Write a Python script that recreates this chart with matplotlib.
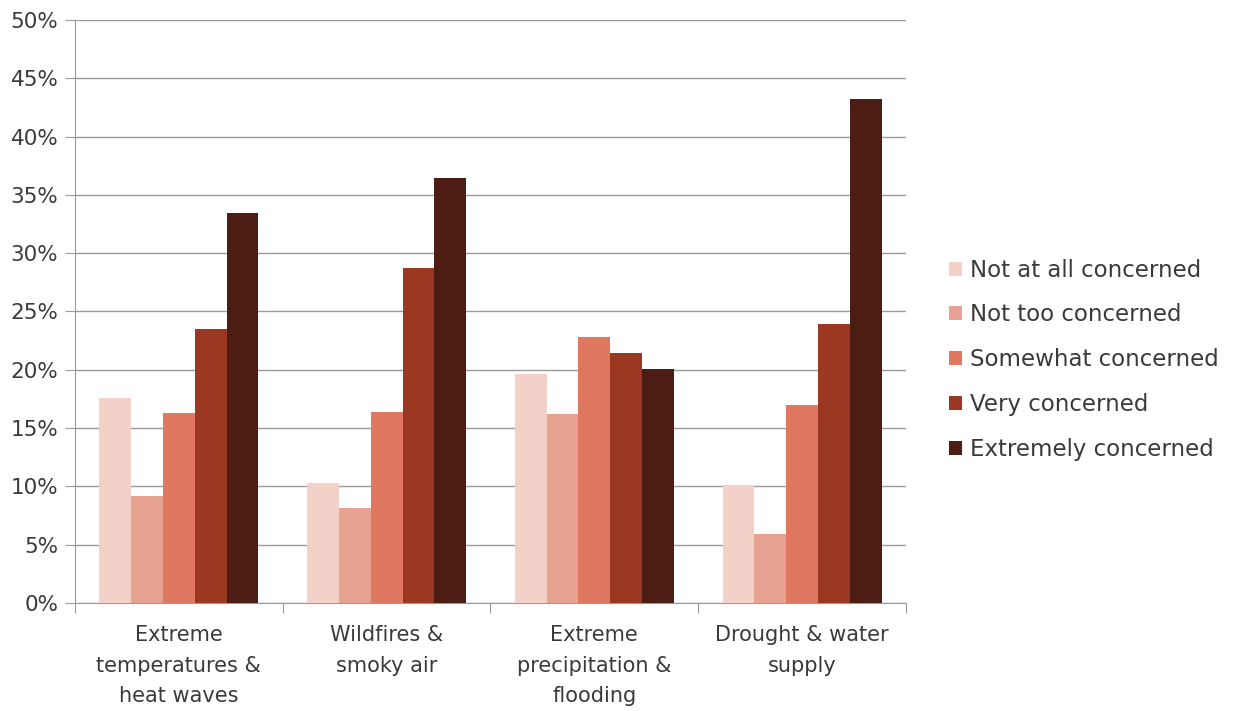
import matplotlib
matplotlib.use('Agg')

import matplotlib.pyplot as plt
import numpy as np
from matplotlib.ticker import FixedLocator, PercentFormatter

# Concern level per climate hazard (% of respondents)
categories = ["Extreme\ntemperatures &\nheat waves", "Wildfires &\nsmoky air",
              "Extreme\nprecipitation &\nflooding", "Drought & water\nsupply"]
levels = ["Not at all concerned", "Not too concerned", "Somewhat concerned",
          "Very concerned", "Extremely concerned"]
not_at_all = [17.6, 10.3, 19.6, 10.1]
not_too = [9.2, 8.1, 16.2, 5.9]
somewhat = [16.3, 16.4, 22.8, 17.0]
very = [23.5, 28.7, 21.4, 23.9]
extremely = [33.4, 36.4, 20.1, 43.2]
colors = ["#F3D1C8", "#E8A291", "#E07760", "#9A3822", "#4D1C13"]

plt.rcParams['font.family'] = ['DejaVu Sans']

fig = plt.figure(figsize=(12.57, 7.11), dpi=100)
ax = fig.add_axes([0.0597, 0.152, 0.661, 0.820])

series = [not_at_all, not_too, somewhat, very, extremely]
x = np.arange(len(categories))
width = 0.765 / len(series)
for i, (vals, lab, col) in enumerate(zip(series, levels, colors)):
    offs = (i - (len(series) - 1) / 2) * width
    ax.bar(x + offs, vals, width, label=lab, color=col, zorder=3)

ax.set_xlim(-0.5, len(categories) - 0.5)
ax.set_ylim(0, 50)
ax.set_yticks(np.arange(0, 51, 5))
ax.yaxis.set_major_formatter(PercentFormatter(decimals=0))
ax.grid(axis='y', color='#9a9a9a', linewidth=1.0, zorder=0)

# group separators as ticks, labels centred under each group
ax.xaxis.set_major_locator(FixedLocator(np.arange(-0.5, len(categories), 1)))
ax.xaxis.set_major_formatter(plt.NullFormatter())
ax.xaxis.set_minor_locator(FixedLocator(x))
ax.set_xticklabels(categories, minor=True, fontsize=15, color='#3a3a3a',
                   linespacing=1.65)
ax.tick_params(axis='x', which='minor', length=0, pad=16)
ax.tick_params(axis='x', which='major', length=7, color='#9a9a9a')
ax.tick_params(axis='y', length=7, color='#9a9a9a', labelsize=15.5,
               labelcolor='#3a3a3a', pad=5)

for s in ['top', 'right']:
    ax.spines[s].set_visible(False)
for s in ['left', 'bottom']:
    ax.spines[s].set_color('#9a9a9a')

fig.legend(loc='center left', bbox_to_anchor=(0.748, 0.494), frameon=False,
           fontsize=16.5, labelcolor='#3a3a3a', handlelength=0.55,
           handleheight=0.55, handletextpad=0.35, labelspacing=0.95,
           borderaxespad=0)

fig.savefig('out.png', dpi=100)
plt.close(fig)
